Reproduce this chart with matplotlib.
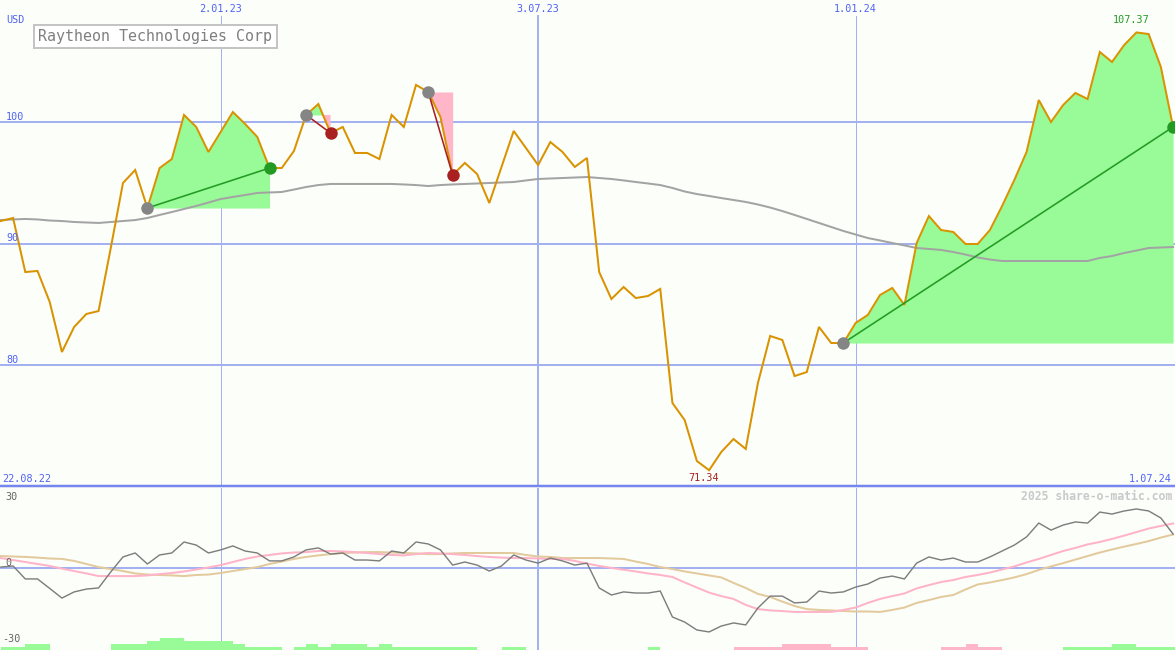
import numpy as np
import pandas as pd
import matplotlib
matplotlib.use('Agg')
import matplotlib.pyplot as plt
import matplotlib.dates as mdates
from matplotlib.transforms import blended_transform_factory as blend
from matplotlib.lines import Line2D

# ---------------- data ----------------
dates = pd.date_range('2022-08-29', periods=97, freq='7D')

price = [91.85, 92.10, 87.65, 87.74, 85.19, 81.07, 83.13, 84.20, 84.44, 89.63,
         94.98, 96.05, 92.92, 96.21, 96.95, 100.58, 99.59, 97.53, 99.18, 100.82,
         99.84, 98.77, 96.21, 96.21, 97.61, 100.58, 101.48, 99.09, 99.59, 97.45,
         97.45, 96.95, 100.58, 99.59, 103.05, 102.47, 100.41, 95.64, 96.63, 95.72,
         93.33, 96.30, 99.26, 97.86, 96.46, 98.35, 97.53, 96.30, 97.04, 87.65,
         85.43, 86.42, 85.51, 85.68, 86.26, 76.87, 75.47, 72.10, 71.34, 72.84,
         73.91, 73.09, 78.52, 82.39, 82.06, 79.09, 79.42, 83.13, 81.81, 81.81,
         83.46, 84.12, 85.76, 86.34, 84.94, 90.04, 92.26, 91.11, 90.95, 89.96,
         89.96, 91.11, 93.09, 95.23, 97.53, 101.81, 100.00, 101.40, 102.39, 101.89,
         105.76, 104.94, 106.34, 107.37, 107.24, 104.53, 99.59]

moving_avg = [91.93, 91.98, 92.02, 91.98, 91.89, 91.85, 91.77, 91.73, 91.69, 91.77,
              91.85, 91.93, 92.10, 92.35, 92.59, 92.84, 93.09, 93.37, 93.66, 93.83,
              93.99, 94.16, 94.20, 94.24, 94.44, 94.65, 94.81, 94.90, 94.90, 94.90,
              94.90, 94.90, 94.90, 94.86, 94.81, 94.73, 94.81, 94.86, 94.90, 94.94,
              94.98, 95.02, 95.06, 95.19, 95.31, 95.35, 95.39, 95.43, 95.47, 95.39,
              95.31, 95.19, 95.06, 94.94, 94.81, 94.57, 94.28, 94.07, 93.91, 93.74,
              93.58, 93.42, 93.21, 92.96, 92.67, 92.35, 92.02, 91.69, 91.36, 91.03,
              90.74, 90.45, 90.25, 90.04, 89.84, 89.63, 89.55, 89.47, 89.30, 89.09,
              88.85, 88.68, 88.56, 88.56, 88.56, 88.56, 88.56, 88.56, 88.56, 88.56,
              88.81, 88.97, 89.22, 89.42, 89.63, 89.67, 89.71]

osc = [0.2, 0.7, -5.2, -5.2, -9.5, -13.9, -11.1, -9.8, -9.3, -2.0,
       4.8, 6.6, 1.6, 5.7, 6.6, 11.6, 10.2, 6.6, 8.0, 9.8,
       7.5, 6.6, 3.0, 3.0, 4.8, 8.0, 8.9, 6.1, 6.6, 3.4,
       3.4, 3.0, 7.5, 6.6, 11.6, 10.7, 8.0, 1.1, 2.5, 1.1,
       -1.6, 0.7, 5.7, 3.4, 2.0, 4.3, 3.0, 1.1, 2.0, -9.3,
       -12.5, -11.1, -11.6, -11.6, -10.7, -22.5, -24.8, -28.4, -29.3, -26.6,
       -25.2, -26.1, -18.4, -13.0, -13.0, -16.1, -15.7, -10.7, -11.6, -11.1,
       -8.9, -7.5, -4.8, -3.9, -5.2, 2.0, 4.8, 3.4, 4.3, 2.5,
       2.5, 4.8, 7.5, 10.2, 13.9, 20.2, 17.0, 19.3, 20.7, 20.2,
       25.2, 24.3, 25.7, 26.6, 25.7, 22.5, 15.2]

osc_fast = [4.3, 3.4, 2.5, 1.6, 0.7, -0.5, -1.6, -2.7, -3.9, -3.9,
            -3.9, -3.9, -3.6, -3.0, -2.5, -1.8, -0.9, 0.0, 1.1, 2.5,
            3.9, 5.0, 5.7, 6.4, 6.8, 7.0, 7.5, 7.5, 7.3, 7.0,
            6.6, 6.1, 5.7, 5.5, 6.1, 6.6, 6.4, 6.1, 5.7, 5.2,
            4.8, 4.5, 4.3, 4.3, 4.1, 3.9, 3.9, 3.0, 1.8, 0.7,
            -0.2, -1.0, -1.8, -2.7, -3.4, -4.3, -6.8, -9.1, -11.4, -13.0,
            -14.3, -17.0, -18.9, -19.5, -19.8, -20.2, -20.2, -20.2, -20.2, -19.3,
            -18.2, -16.1, -14.3, -13.0, -11.8, -9.5, -8.0, -6.6, -5.7, -4.3,
            -3.4, -2.3, -0.9, 0.5, 2.3, 3.9, 5.7, 7.5, 8.9, 10.5,
            11.6, 13.0, 14.5, 16.1, 17.7, 18.9, 20.0]

osc_slow = [5.2, 5.0, 4.8, 4.5, 4.1, 3.9, 3.0, 1.6, 0.2, -0.7,
            -1.6, -2.7, -3.2, -3.4, -3.6, -3.9, -3.4, -3.2, -2.5, -1.6,
            -0.7, 0.2, 1.6, 2.7, 3.9, 4.8, 5.5, 6.1, 6.6, 6.8,
            7.0, 7.0, 6.8, 6.6, 6.4, 6.1, 6.1, 6.4, 6.6, 6.6,
            6.6, 6.6, 6.6, 5.7, 5.0, 4.8, 4.3, 4.3, 4.3, 4.3,
            4.1, 3.9, 2.7, 1.6, 0.2, -0.7, -1.8, -2.7, -3.6, -4.5,
            -7.0, -9.3, -12.0, -13.4, -15.5, -17.5, -18.9, -19.3, -19.5, -19.8,
            -20.0, -20.0, -20.2, -19.3, -18.2, -16.1, -14.8, -13.4, -12.5, -10.0,
            -7.7, -6.8, -5.7, -4.5, -3.0, -1.1, 0.5, 2.0, 3.6, 5.2,
            6.8, 8.2, 9.5, 10.7, 12.0, 13.6, 15.0]

signal_hist = [1, 1, 2, 2, 0, 0, 0, 0, 0, 2,
               2, 2, 3, 4, 4, 3, 3, 3, 3, 2,
               1, 1, 1, 0, 1, 2, 1, 2, 2, 2,
               1, 2, 1, 1, 1, 1, 1, 1, 1, 0,
               0, 1, 1, 0, 0, 0, 0, 0, 0, 0,
               0, 0, 0, 1, 0, 0, 0, 0, 0, 0,
               -1, -1, -1, -1, -2, -2, -2, -2, -1, -1,
               -1, 0, 0, 0, 0, 0, 0, -1, -1, -2,
               -1, -1, 0, 0, 0, 0, 0, 1, 1, 1,
               1, 2, 2, 1, 1, 1, 1]

sig_start = [12, 25, 35, 69]
sig_end = [22, 27, 37, 96]

price_ticks = [80, 90, 100]
price_tick_labels = ['80', '90', '100']
osc_ticks = [30, 0, -30]
osc_tick_labels = ['30', '0', '-30']
date_ticks = ['2023-01-02', '2023-07-03', '2024-01-01']
date_tick_labels = ['2.01.23', '3.07.23', '1.01.24']
start_label = '22.08.22'
end_label = '1.07.24'
title = 'Raytheon Technologies Corp'
currency = 'USD'
watermark = '2025 share-o-matic.com'

# ---------------- style ----------------
W, H = 1175, 650
BG = '#FCFEFA'
GRID = '#A3B1F0'
SEP = '#7586EE'
TXT_BLUE = '#5062F2'
ORANGE = '#D99200'
MA_GRAY = '#A3A3A3'
GREEN_FILL = '#98FB98'
PINK_FILL = '#FFB6C8'
GREEN = '#239B23'
RED = '#A82020'
MONO = 'DejaVu Sans Mono'
PX = 0.72  # one pixel in points

fig = plt.figure(figsize=(W / 100, H / 100), dpi=100)
fig.patch.set_facecolor(BG)


def fy(py):
    return 1 - py / H


MAIN_BOTTOM = 487
ax = fig.add_axes([0, fy(MAIN_BOTTOM), 1, MAIN_BOTTOM / H])
ax2 = fig.add_axes([0, 0, 1, fy(488)])
for a in (ax, ax2):
    a.set_facecolor('none')
    a.axis('off')

x = mdates.date2num(dates.values)
p = np.array(price)
for a in (ax, ax2):
    a.set_xlim(x[0] - 0.5, x[-1] + 1.1)
ax.set_ylim(69.96, 110.04)
ax2.set_ylim(-37.5, 36.14)

# grid
for v in price_ticks:
    ax.axhline(v, color=GRID, lw=2 * PX, zorder=1)
vx = mdates.date2num(pd.to_datetime(date_ticks).values)
vwidths = [1, 2, 1]
for xv, w in zip(vx, vwidths):
    ax.axvline(xv, ymin=0, ymax=(MAIN_BOTTOM - 16) / MAIN_BOTTOM, color=GRID, lw=w * PX, zorder=1)
    ax2.axvline(xv, color=GRID, lw=w * PX, zorder=0.5)
ax2.axhline(0, color=GRID, lw=2 * PX, zorder=0.5)
fig.add_artist(Line2D([0, 1], [fy(486), fy(486)], transform=fig.transFigure,
                      color=SEP, lw=2.5 * PX))

# signal fills
for s, e in zip(sig_start, sig_end):
    xs = x[s:e + 1]
    ps = p[s:e + 1]
    lvl = p[s]
    ax.fill_between(xs, ps, lvl, where=ps >= lvl, interpolate=True,
                    color=GREEN_FILL, lw=0, zorder=2)
    ax.fill_between(xs, ps, lvl, where=ps <= lvl, interpolate=True,
                    color=PINK_FILL, lw=0, zorder=2)

# moving average + price
ax.plot(x, moving_avg, color=MA_GRAY, lw=2 * PX, zorder=3)
ax.plot(x, p, color=ORANGE, lw=2 * PX, zorder=4, solid_joinstyle='miter')

# signal lines & dots
for s, e in zip(sig_start, sig_end):
    col = GREEN if p[e] >= p[s] else RED
    ax.plot([x[s], x[e]], [p[s], p[e]], color=col, lw=1.6 * PX, zorder=5)
    ax.plot(x[s], p[s], 'o', ms=9, color='#858585', zorder=6, mec='none')
    ax.plot(x[e], p[e], 'o', ms=9, color=col, zorder=6, mec='none')

# price tick labels
tr_l = blend(ax.transAxes, ax.transData)
for v, lab in zip(price_ticks, price_tick_labels):
    ax.text(6 / W, v, lab, transform=tr_l, ha='left', va='bottom',
            fontsize=7.3, family=MONO, color=TXT_BLUE, zorder=7)
fig.text(6 / W, fy(20), currency, ha='left', va='center', fontsize=7.3,
         family=MONO, color=TXT_BLUE)

# date labels
tr_top = blend(ax.transData, fig.transFigure)
for xv, lab in zip(vx, date_tick_labels):
    ax.text(xv, fy(9), lab, transform=tr_top, ha='center', va='center',
            fontsize=7.3, family=MONO, color=TXT_BLUE)
fig.text(2 / W, fy(479), start_label, ha='left', va='center', fontsize=7.3,
         family=MONO, color=TXT_BLUE)
fig.text(1172 / W, fy(479), end_label, ha='right', va='center', fontsize=7.3,
         family=MONO, color=TXT_BLUE)

# max / min annotations
imax = int(np.argmax(p))
imin = int(np.argmin(p))
ax.annotate(f'{p[imax]:.2f}', (x[imax], p[imax]), xytext=(-5, 12),
            textcoords='offset pixels', ha='center', va='center',
            fontsize=7.3, family=MONO, color=GREEN, zorder=7)
ax.annotate(f'{p[imin]:.2f}', (x[imin], p[imin]), xytext=(-6, -8),
            textcoords='offset pixels', ha='center', va='center',
            fontsize=7.3, family=MONO, color=RED, zorder=7)

# title box
fig.text(155.5 / W, fy(36.5), title, ha='center', va='center', fontsize=10.8,
         family=MONO, color='#7F7F7F',
         bbox=dict(boxstyle='square,pad=0.28', fc='white', ec='#C4C4C4', lw=2 * PX))

# ---------------- lower panel ----------------
hist = np.array(signal_hist)
step = 3 / 2.2
ax2.bar(x, np.abs(hist) * step, width=7, align='edge', bottom=-37.5,
        color=[GREEN_FILL if h > 0 else PINK_FILL for h in hist], lw=0, zorder=1)
ax2.plot(x, osc_slow, color='#E2CA9C', lw=2 * PX, zorder=2)
ax2.plot(x, osc_fast, color='#FFB3C8', lw=2 * PX, zorder=3)
ax2.plot(x, osc, color='#7C7C7C', lw=1.4 * PX, zorder=4)

tr_l2 = blend(ax2.transAxes, ax2.transData)
for v, lab in zip(osc_ticks, osc_tick_labels):
    ax2.text(5 / W if v >= 0 else 2 / W, v, lab, transform=tr_l2, ha='left',
             va='bottom' if v >= 0 else 'top', fontsize=7.3, family=MONO,
             color='#666666', zorder=7)

fig.text(1172 / W, fy(496), watermark, ha='right', va='center', fontsize=8.3,
         family=MONO, weight='bold', color='#C9C9C9')

fig.savefig('out.png', dpi=100, facecolor=BG)
